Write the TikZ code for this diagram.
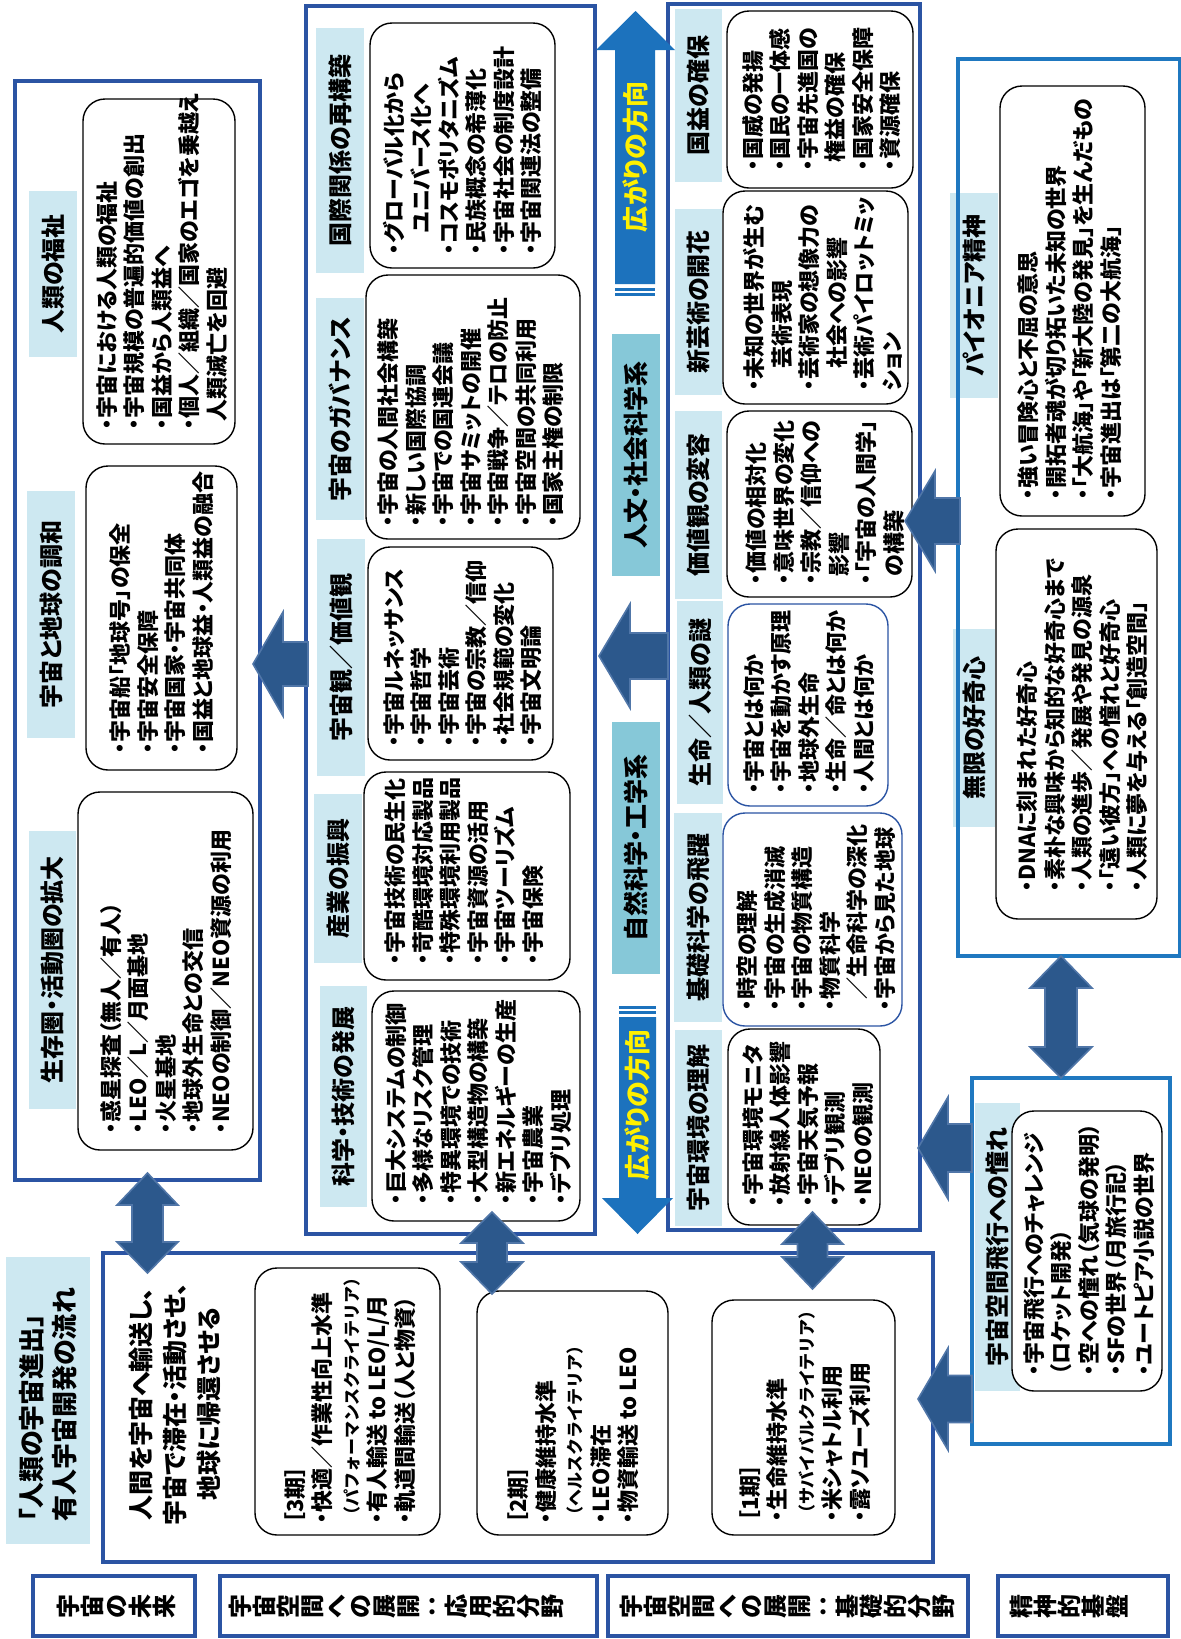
\documentclass[tikz,border=0pt]{standalone}
\usepackage{fontspec}
\setmainfont{Noto Sans CJK JP}[RawFeature=+palt]
\newfontfamily\jpfull{Noto Sans CJK JP}
\usepackage{graphicx}
\usetikzlibrary{fit}

\definecolor{boxblue}{RGB}{43,84,163}
\definecolor{skyblue}{RGB}{31,120,192}
\definecolor{hdrfill}{RGB}{205,232,241}
\definecolor{catfill}{RGB}{134,200,216}
\definecolor{fatfill}{RGB}{44,88,140}
\definecolor{fatedge}{RGB}{80,118,168}
\definecolor{spreadblue}{RGB}{28,114,189}
\definecolor{spreadtext}{RGB}{255,240,0}

% each glyph turned a quarter to the left, set side by side; the colon stays upright
\def\rotglyphs#1{\rotglyphsA#1\relax}
\def\rotglyphsA#1{\ifx\relax#1\else
  \ifx：#1\raisebox{0.12em}{\makebox[1em]{\jpfull ：}}%
  \else\rotatebox{90}{\raisebox{0pt}[0.88em][0.12em]{#1}}\fi
  \expandafter\rotglyphsA\fi}

\tikzset{
  colbox/.style={draw=boxblue, line width=4pt, inner sep=0pt},
  rbox/.style={draw=black, line width=1.4pt, rounded corners=22pt, fill=white, inner sep=0pt},
  bluerbox/.style={draw=boxblue},
  hdrbg/.style={fill=hdrfill, inner sep=0pt},
  catbg/.style={fill=catfill, inner sep=0pt},
  htext/.style={rotate=90, inner sep=0pt, font=\fontsize{24}{28}\selectfont\bfseries},
  cattext/.style={rotate=90, inner sep=0pt, font=\fontsize{25}{28}\selectfont\bfseries},
  ltext/.style={rotate=90, anchor=west, align=left, inner sep=0pt, font=\fontsize{22}{27.5}\selectfont\bfseries},
  titletext/.style={rotate=90, anchor=west, align=left, inner sep=0pt, font=\fontsize{26}{33}\selectfont\bfseries},
  leadtext/.style={rotate=90, align=center, inner sep=0pt, font=\fontsize{25}{34}\selectfont\bfseries},
  spreadlabel/.style={rotate=90, inner sep=0pt, text=spreadtext, font=\fontsize{26}{28}\selectfont\bfseries},
  labbox/.style={draw=boxblue, line width=3.5pt, inner sep=0pt},
  labtext/.style={inner sep=0pt, font=\fontsize{24}{28}\selectfont\bfseries},
  fatarrow/.style={fill=fatfill, draw=fatedge, line width=1.6pt, line join=miter},
}

% header strip: name, x1, y1, x2, y2, text
\newcommand\hdr[6]{%
  \node[hdrbg, fit={(#2,#3) (#4,#5)}] (#1) {};
  \node[htext] (#1-t) at (#1.center) {#6};}
% rounded list box: name, extra style, x1, y1, x2, y2, text centre x, text start y, lines
\newcommand\lst[9]{%
  \node[rbox, #2, fit={(#3,#4) (#5,#6)}] (#1) {};
  \node[ltext] (#1-t) at (#7,#8) {#9};}
% fat arrow pointing left: tip x, centre y, head base x, tail x, head half, shaft half
\newcommand\fatleft[6]{%
  \filldraw[fatarrow] (#1,#2) -- (#3,#2-#5) -- (#3,#2-#6) -- (#4,#2-#6)
    -- (#4,#2+#6) -- (#3,#2+#6) -- (#3,#2+#5) -- cycle;}
% fat vertical double arrow: centre x, top tip, top base, bottom base, bottom tip, head half, shaft half
\newcommand\fatboth[7]{%
  \filldraw[fatarrow] (#1,#2) -- (#1+#6,#3) -- (#1+#7,#3) -- (#1+#7,#4) -- (#1+#6,#4)
    -- (#1,#5) -- (#1-#6,#4) -- (#1-#7,#4) -- (#1-#7,#3) -- (#1-#6,#3) -- cycle;}
% smaller line for the criteria notes
\newcommand\sm[1]{{\jpfull\bfseries\fontsize{17}{27.5}\selectfont #1}}

\begin{document}
\begin{tikzpicture}[x=1pt,y=-1pt]
\useasboundingbox (0,0) rectangle (1181,1639);
\fill[white] (0,0) rectangle (1181,1639);

% ---------- future of space ----------
\node[colbox, fit={(15,81) (260,1180)}] (future) {};
\hdr{hWelfare}{29}{191}{77}{357}{人類の福祉}
\lst{lWelfare}{}{83}{99}{235}{444}{162}{430}{・宇宙における人類の福祉\\・宇宙規模の普遍的価値の創出\\・国益から人類益へ\\・個人／組織／国家のエゴを乗越え\\\hspace{0.4em}人類滅亡を回避}
\hdr{hHarmony}{27}{491}{75}{738}{宇宙と地球の調和}
\lst{lHarmony}{}{86}{466}{237}{770}{161.5}{754}{・宇宙船「地球号」の保全\\・宇宙安全保障\\・宇宙国家・宇宙共同体\\・国益と地球益・人類益の融合}
\hdr{hSphere}{29}{831}{76}{1109}{生存圏・活動圏の拡大}
\lst{lSphere}{}{78}{792}{253}{1150}{166}{1134}{・惑星探査（無人／有人）\\・LEO／L／月面基地\\・火星基地\\・地球外生命との交信\\・NEOの制御／NEO資源の利用}

% ---------- applied fields ----------
\node[colbox, fit={(306,6) (595,1234)}] (applied) {};
\hdr{hIntl}{316}{28}{364}{273}{国際関係の再構築}
\lst{lIntl}{}{370}{23}{555}{268}{462.5}{255}{・グローバル化から\\\hspace{1em}ユニバース化へ\\・コスモポリタニズム\\・民族概念の希薄化\\・宇宙社会の制度設計\\・宇宙関連法の整備}
\hdr{hGov}{316}{298}{364}{520}{宇宙のガバナンス}
\lst{lGov}{}{366}{275}{580}{539}{471}{527}{・宇宙の人間社会構築\\・新しい国際協調\\・宇宙での国連会議\\・宇宙サミットの開催\\・宇宙戦争／テロの防止\\・宇宙空間の共同利用\\・国家主権の制限}
\hdr{hView}{317}{539}{365}{776}{宇宙観／価値観}
\lst{lView}{}{368}{547}{553}{760}{462.5}{747}{・宇宙ルネッサンス\\・宇宙哲学\\・宇宙芸術\\・宇宙の宗教／信仰\\・社会規範の変化\\・宇宙文明論}
\hdr{hInd}{314}{794}{362}{963}{産業の振興}
\lst{lInd}{}{364}{772}{570}{980}{464}{965}{・宇宙技術の民生化\\・苛酷環境対応製品\\・特殊環境利用製品\\・宇宙資源の活用\\・宇宙ツーリズム\\・宇宙保険}
\hdr{hTech}{320}{986}{367}{1207}{科学・技術の発展}
\lst{lTech}{}{372}{991}{580}{1221}{478.5}{1205}{・巨大システムの制御\\・多様なリスク管理\\・特異環境での技術\\・大型構造物の構築\\・新エネルギーの生産\\・宇宙農業\\・デブリ処理}

% ---------- basic fields ----------
\node[colbox, fit={(668,4) (920,1230)}] (basic) {};
\hdr{hNat}{675}{9}{722}{182}{国益の確保}
\lst{lNat}{}{727}{11}{913}{188}{821.5}{171}{・国威の発揚\\・国民の一体感\\・宇宙先進国の\\\hspace{0.4em}権益の確保\\・国家安全保障\\・資源確保}
\hdr{hArt}{675}{209}{722}{395}{新芸術の開花}
\lst{lArt}{}{723}{191}{908}{404}{823}{391}{・未知の世界が生む\\\hspace{1em}芸術表現\\・芸術家の想像力の\\\hspace{1em}社会への影響\\・芸術パイロットミッ\\ション}
\hdr{hVal}{675}{411}{722}{599}{価値観の変容}
\lst{lVal}{}{727}{411}{912}{597}{825}{585}{・価値の相対化\\・意味世界の変化\\・宗教／信仰への\\\hspace{0.4em}影響\\・「宇宙の人間学」\\\hspace{0.4em}の構築}
\hdr{hLife}{677}{601}{723}{804}{生命／人類の謎}
\lst{lLife}{bluerbox}{728}{604}{888}{806}{809}{794}{・宇宙とは何か\\・宇宙を動かす原理\\・地球外生命\\・生命／命とは何か\\・人間とは何か}
\hdr{hSci}{674}{813}{722}{1022}{基礎科学の飛躍}
\lst{lSci}{bluerbox}{723}{813}{902}{1026}{816}{1011}{・時空の理解\\・宇宙の生成消滅\\・宇宙の物質構造\\・物質科学\\\hspace{0.5em}／生命科学の深化\\・宇宙から見た地球}
\hdr{hEnv}{675}{1030}{722}{1226}{宇宙環境の理解}
\lst{lEnv}{}{728}{1029}{880}{1225}{808}{1207}{・宇宙環境モニタ\\・放射線人体影響\\・宇宙天気予報\\・デブリ観測\\・NEOの観測}

% ---------- spiritual basis ----------
\hdr{hPion}{950}{193}{998}{398}{パイオニア精神}
\hdr{hCur}{953}{629}{995}{827}{無限の好奇心}
\node[colbox, draw=skyblue, fit={(958,59) (1180,956)}] (spirit) {};
\lst{lPion}{}{1000}{86}{1145}{516}{1069.5}{500}{・強い冒険心と不屈の意思\\・開拓者魂が切り拓いた未知の世界\\・「大航海」や「新大陸の発見」を生んだもの\\・宇宙進出は「第二の大航海」}
\lst{lCur}{}{996}{529}{1157}{919}{1082.5}{892}{・DNAに刻まれた好奇心\\・素朴な興味から知的な好奇心まで\\・人類の進歩／発展や発見の源泉\\・「遠い彼方」への憧れと好奇心\\・人類に夢を与える「創造空間」}

\node[colbox, draw=skyblue, fit={(972,1078) (1170,1444)}] (dream) {};
\hdr{hFly}{975}{1103}{1020}{1391}{宇宙空間飛行への憧れ}
\lst{lFly}{}{1012}{1111}{1162}{1391}{1089}{1376}{・宇宙飛行へのチャレンジ\\（ロケット開発）\\・空への憧れ（気球の発明）\\・SFの世界（月旅行記）\\・ユートピア小説の世界}

% ---------- manned space development ----------
\node[hdrbg, fit={(6,1257) (90,1544)}] (title) {};
\node[titletext] (title-t) at (48.5,1522) {「人類の宇宙進出」\\有人宇宙開発の流れ};
\node[colbox, fit={(103,1253) (933,1562)}] (flow) {};
\node[leadtext] (lead) at (175,1404) {人間を宇宙へ輸送し、\\宇宙で滞在・活動させ、\\地球に帰還させる};
\lst{phase3}{}{255}{1268}{440}{1535}{350}{1524}{［3期］\\・快適／作業性向上水準\\\sm{（パフォーマンスクライテリア）}\\・有人輸送 to LEO/L/月\\・軌道間輸送（人と物資）}
\lst{phase2}{}{477}{1291}{668}{1535}{573.5}{1524}{［2期］\\・健康維持水準\\\sm{（ヘルスクライテリア）}\\・LEO滞在\\・物資輸送 to LEO}
\lst{phase1}{}{712}{1300}{895}{1535}{805}{1522}{［1期］\\・生命維持水準\\\sm{（サバイバルクライテリア）}\\・米シャトル利用\\・露ソユーズ利用}

% ---------- category strips ----------
\node[catbg, fit={(612,334) (660,576)}] (cHum) {};
\node[cattext] (cHum-t) at (cHum.center) {人文・社会科学系};
\node[catbg, fit={(612,722) (660,974)}] (cNat) {};
\node[cattext] (cNat-t) at (cNat.center) {自然科学・工学系};

% ---------- direction of spread ----------
\fill[spreadblue] (635.5,11) -- (675,50) -- (655,50) -- (655,284) -- (615,284) -- (615,50) -- (596,50) -- cycle;
\fill[spreadblue] (615,288) rectangle (655,291);
\fill[spreadblue] (615,293) rectangle (655,296);
\node[spreadlabel] (spreadUp) at (635,157) {広がりの方向};
\fill[spreadblue] (619,1006) rectangle (656,1009);
\fill[spreadblue] (619,1011) rectangle (656,1014);
\fill[spreadblue] (619,1017) -- (656,1017) -- (656,1198) -- (673,1198) -- (637.5,1234) -- (602,1198) -- (619,1198) -- cycle;
\node[spreadlabel] (spreadDown) at (637.5,1105) {広がりの方向};

% ---------- block arrows ----------
\fatleft{253}{664}{283}{308}{52}{22}
\fatleft{599}{656}{630}{668}{52}{23}
\fatleft{905}{521}{935}{960}{50}{23}
\fatleft{918}{1148}{948}{972}{51}{24}
\fatleft{918}{1399}{948}{972}{51}{23.5}
\fatboth{147.5}{1173}{1205}{1242}{1273}{30.5}{15.5}
\fatboth{492}{1212}{1243}{1262}{1294}{31}{15}
\fatboth{812.5}{1212}{1244}{1257}{1289}{30.5}{15}
\fatboth{1061}{956}{988}{1047}{1078}{31}{16}

% ---------- row labels ----------
\node[labbox, fit={(33,1576) (195,1636)}] (rowFuture) {};
\node[labtext] (rowFuture-t) at (116,1606) {\rotglyphs{宇宙の未来}};
\node[labbox, fit={(220,1576) (597,1636)}] (rowApplied) {};
\node[labtext] (rowApplied-t) at (396,1606) {\rotglyphs{宇宙空間への展開：応用的分野}};
\node[labbox, fit={(608,1576) (968,1636)}] (rowBasic) {};
\node[labtext] (rowBasic-t) at (787,1606) {\rotglyphs{宇宙空間への展開：基礎的分野}};
\node[labbox, fit={(998,1576) (1168,1636)}] (rowSpirit) {};
\node[labtext] (rowSpirit-t) at (1069,1606) {\rotglyphs{精神的基盤}};
\end{tikzpicture}
\end{document}
